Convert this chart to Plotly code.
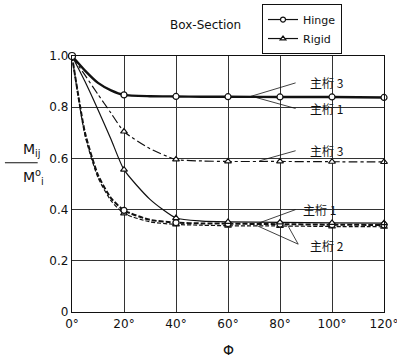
import plotly.graph_objects as go

# ---- data ----
phi = [0, 5, 10, 15, 20, 30, 40, 50, 60, 80, 100, 120]
hinge_g3 = [1.0, 0.943, 0.895, 0.866, 0.848, 0.843, 0.842, 0.841, 0.841, 0.840, 0.840, 0.838]
rigid_g3 = [1.0, 0.925, 0.850, 0.777, 0.705, 0.638, 0.596, 0.590, 0.588, 0.588, 0.587, 0.586]
rigid_g1 = [1.0, 0.900, 0.790, 0.675, 0.556, 0.440, 0.367, 0.355, 0.352, 0.350, 0.348, 0.347]
hinge_g2 = [1.0, 0.700, 0.535, 0.445, 0.397, 0.360, 0.349, 0.346, 0.345, 0.343, 0.341, 0.340]
rigid_g2 = [1.0, 0.690, 0.525, 0.435, 0.385, 0.352, 0.342, 0.339, 0.337, 0.336, 0.334, 0.333]

x_ticks = [0, 20, 40, 60, 80, 100, 120]
x_tick_labels = ["0°", "20°", "40°", "60°", "80°", "100°", "120°"]
y_ticks = [0, 0.2, 0.4, 0.6, 0.8, 1.0]
y_tick_labels = ["0", "0.2", "0.4", "0.6", "0.8", "1.0"]

FONT = "DejaVu Sans"
CJK = "Noto Sans CJK JP"
INK = "#111111"

fig = go.Figure()

def add_curve(y, width, dash, symbol):
    fig.add_trace(go.Scatter(x=phi, y=y, mode="lines",
                             line=dict(color=INK, width=width, dash=dash,
                                       shape="spline", smoothing=0.6),
                             showlegend=False, hoverinfo="skip"))
    mx = [p for p in phi if p % 20 == 0 and p > 0]
    my = [v for p, v in zip(phi, y) if p % 20 == 0 and p > 0]
    fig.add_trace(go.Scatter(x=mx, y=my, mode="markers", cliponaxis=False,
                             marker=dict(symbol=symbol, size=6, color="white",
                                         line=dict(color=INK, width=1.2)),
                             showlegend=False, hoverinfo="skip"))

add_curve(rigid_g2, 1.2, "4px,2px", "triangle-up")
add_curve(hinge_g2, 2.0, "5px,2px", "circle")
add_curve(rigid_g1, 1.2, "solid", "triangle-up")
add_curve(rigid_g3, 1.2, "dashdot", "triangle-up")
add_curve(hinge_g3, 2.4, "solid", "circle")

# origin marker
fig.add_trace(go.Scatter(x=[phi[0]], y=[hinge_g3[0]], mode="markers",
                         marker=dict(symbol="circle", size=7, color="white",
                                     line=dict(color=INK, width=1.2)),
                         showlegend=False, hoverinfo="skip", cliponaxis=False))

# legend entries
fig.add_trace(go.Scatter(x=[None], y=[None], mode="lines+markers", name="Hinge",
                         line=dict(color=INK, width=1.2),
                         marker=dict(symbol="circle", size=5, color="white",
                                     line=dict(color=INK, width=1.2))))
fig.add_trace(go.Scatter(x=[None], y=[None], mode="lines+markers", name="Rigid",
                         line=dict(color=INK, width=1.2),
                         marker=dict(symbol="triangle-up", size=5, color="white",
                                     line=dict(color=INK, width=1.2))))

# girder labels and leader lines
labels = [
    ("主桁 3", 98, 0.895, [(69, 0.843), (86, 0.895)]),
    ("主桁 1", 98, 0.795, [(69, 0.843), (86, 0.795)]),
    ("主桁 3", 98, 0.63, [(72, 0.59), (86, 0.63)]),
    ("主桁 1", 95, 0.40, [(72, 0.348), (86, 0.40)]),
    ("主桁 2", 98, 0.26, [(71, 0.338), (87, 0.265)]),
]
for text, lx, ly, seg in labels:
    fig.add_annotation(x=lx, y=ly, text=text, showarrow=False, xanchor="center",
                       yanchor="middle", font=dict(family=CJK, size=12, color=INK))
    fig.add_shape(type="line", x0=seg[0][0], y0=seg[0][1], x1=seg[1][0], y1=seg[1][1],
                  line=dict(color=INK, width=0.8))
fig.add_shape(type="line", x0=83, y0=0.338, x1=87, y1=0.265, line=dict(color=INK, width=0.8))

# title
fig.add_annotation(xref="paper", yref="paper", x=0.308, y=1.121, text="Box-Section",
                   showarrow=False, yanchor="middle",
                   font=dict(family=FONT, size=12, color=INK))

# y label as a fraction
fig.add_annotation(xref="paper", yref="paper", x=-0.165, y=0.59, text="M<sub>ij</sub>",
                   showarrow=False, yanchor="bottom", font=dict(family=FONT, size=14, color=INK))
fig.add_annotation(xref="paper", yref="paper", x=-0.165, y=0.575, text="M<sup>o</sup><sub>i</sub>",
                   showarrow=False, yanchor="top", font=dict(family=FONT, size=14, color=INK))
fig.add_shape(type="line", xref="paper", yref="paper", x0=-0.215, x1=-0.11,
              y0=0.583, y1=0.583, line=dict(color=INK, width=1.2))

# x label
fig.add_annotation(xref="paper", yref="paper", x=0.5, y=-0.15, text="Φ",
                   showarrow=False, yanchor="middle",
                   font=dict(family=FONT, size=14, color=INK))

fig.update_xaxes(range=[0, 120], tickvals=x_ticks, ticktext=x_tick_labels,
                 showgrid=True, gridcolor="#333333", gridwidth=1,
                 showline=True, linecolor=INK, linewidth=1.3, mirror=True,
                 ticklabeloverflow="allow",
                 zeroline=False, ticks="", tickfont=dict(family=FONT, size=12, color=INK))
fig.update_yaxes(range=[0, 1.0], tickvals=y_ticks, ticktext=y_tick_labels,
                 showgrid=True, gridcolor="#333333", gridwidth=1,
                 showline=True, linecolor=INK, linewidth=1.3, mirror=True,
                 ticklabeloverflow="allow",
                 zeroline=False, ticks="", tickfont=dict(family=FONT, size=12, color=INK))

fig.update_layout(
    width=397, height=362,
    margin=dict(l=72, r=13, t=56, b=50, autoexpand=False),
    plot_bgcolor="white", paper_bgcolor="white",
    showlegend=True,
    legend=dict(x=0.609, y=1.203, xanchor="left", yanchor="top",
                bgcolor="white", bordercolor=INK, borderwidth=1,
                font=dict(family=FONT, size=11, color=INK),
                itemwidth=30, tracegroupgap=0),
)

fig.write_html("out.html")
